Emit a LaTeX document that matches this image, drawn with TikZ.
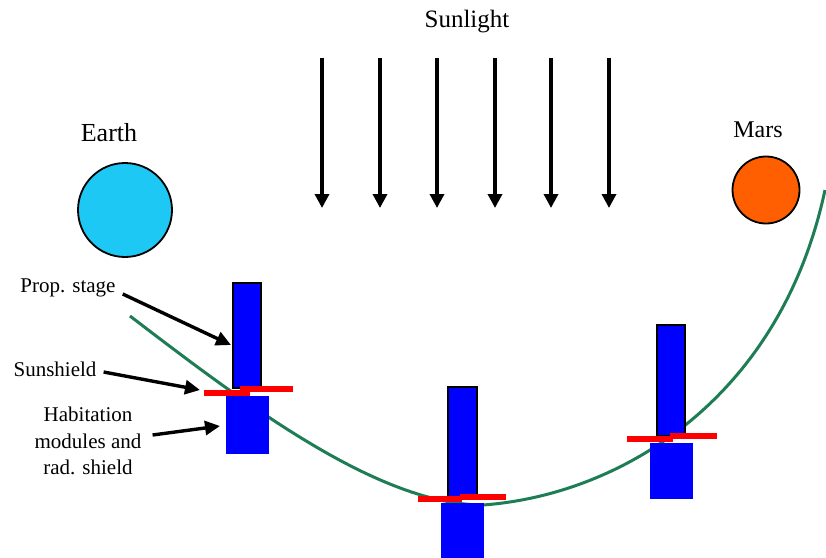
\documentclass[tikz,border=0pt]{standalone}
\usepackage{fontspec}
\setmainfont{Liberation Serif}
\usetikzlibrary{arrows.meta}
\definecolor{earthblue}{RGB}{30,200,245}
\definecolor{marsorange}{RGB}{255,95,0}
\definecolor{orbitgreen}{RGB}{30,125,85}
\begin{document}
\begin{tikzpicture}[x=1pt,y=-1pt,
  prop/.style={rectangle,draw=black,line width=1.6pt,fill=blue,minimum width=28pt,inner sep=0pt},
  hab/.style={rectangle,draw=blue,fill=blue,minimum width=42pt,inner sep=0pt},
  shield/.style={red,line width=6pt},
  ray/.style={line width=3.4pt,-{Triangle[width=14pt,length=14pt]}},
  pointer/.style={line width=3.4pt,-{Triangle[width=14pt,length=15pt]}},
  lbl/.style={font=\fontsize{21}{26.5}\selectfont,align=center,inner sep=0pt},
  title/.style={font=\fontsize{25}{30}\selectfont,inner sep=0pt},
  planet/.style={circle,draw=black,line width=1.8pt,inner sep=0pt}]
\useasboundingbox[fill=white] (0,0) rectangle (826,557);

% sunlight
\node[title] (sun) at (467,22) {Sunlight};
\foreach \x in {322,380,437,495,551,609}
  \draw[ray] (\x,58) -- (\x,208);

% planets
\node[title,font=\fontsize{26}{30}\selectfont] (earthlab) at (109,133) {Earth};
\node[planet,fill=earthblue,minimum size=94pt] (earth) at (125,210) {};
\node[title,font=\fontsize{24}{30}\selectfont] (marslab) at (758,130) {Mars};
\node[planet,fill=marsorange,minimum size=67pt] (mars) at (766,190) {};

% trajectory
\coordinate (tstart) at (130,316);
\coordinate (tlow) at (483,505);
\coordinate (tend) at (825,190);
\draw[orbitgreen,line width=3pt] (tstart) .. controls (250,408) and (380,505) .. (tlow)
  .. controls (620,495) and (780,400) .. (tend);

% ship 1
\node[prop,minimum height=105pt] (prop1) at (247,335.5) {};
\node[hab,minimum height=57pt] (hab1) at (247,424.5) {};
\draw[shield] (204,393) -- (250,393);
\draw[shield] (240,389) -- (293,389);

% ship 2
\node[prop,minimum height=110pt,minimum width=29pt] (prop2) at (462.5,442) {};
\node[hab,minimum height=67pt] (hab2) at (462,536.5) {};
\draw[shield] (418,499) -- (462,499);
\draw[shield] (460,497) -- (506,497);

% ship 3
\node[prop,minimum height=111pt] (prop3) at (671,380.5) {};
\node[hab,minimum height=55pt] (hab3) at (671,470.5) {};
\draw[shield] (627,439) -- (673,439);
\draw[shield] (670,436) -- (717,436);

% labels
\node[lbl] (plab) at (68,288) {Prop. stage};
\node[lbl] (slab) at (55,369) {Sunshield};
\node[lbl] (hlab) at (88,441) {Habitation\\modules and\\rad. shield};
\coordinate (tipP) at (231,345);
\coordinate (tipS) at (200,390);
\coordinate (tipH) at (220,426);
\draw[pointer] ([shift={(7,6)}]plab.east) -- (tipP);
\draw[pointer] ([shift={(7,3)}]slab.east) -- (tipS);
\draw[pointer] ([shift={(11,-6)}]hlab.east) -- (tipH);
\end{tikzpicture}
\end{document}
